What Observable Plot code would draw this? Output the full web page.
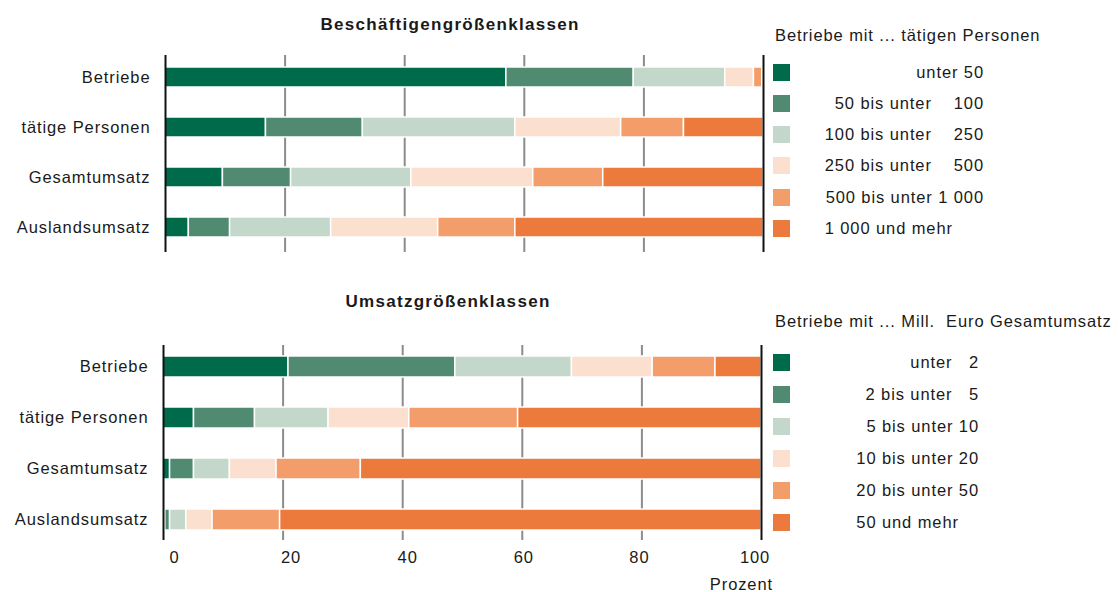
<!DOCTYPE html>
<html><head><meta charset="utf-8">
<script src="https://cdn.jsdelivr.net/npm/d3@7"></script>
<script src="https://cdn.jsdelivr.net/npm/@observablehq/plot@0.6"></script>
<style>
body{margin:0;background:#fff;}
#root{position:relative;width:1118px;height:592px;overflow:hidden;font-family:"Liberation Sans",Arial,sans-serif;color:#1a1a1a;font-size:16.5px;letter-spacing:0.9px;}
.abs{position:absolute;white-space:pre;line-height:20px;}
.title{font-weight:bold;font-size:17px;letter-spacing:1.3px;transform:translate(-50%,-50%);}
.mid{transform:translateY(-50%);}
.legtext{position:absolute;white-space:pre;text-align:right;}
.legtext div.last{text-align:left;}
.sw{position:absolute;width:17px;height:17px;}
.plot{position:absolute;left:0;}
</style></head>
<body><div id="root"></div>
<script>
// ---- data ----
const categories = ["Betriebe", "tätige Personen", "Gesamtumsatz", "Auslandsumsatz"];
const colors = ["#006b4b", "#508a71", "#c3d7cb", "#fbdfcf", "#f29d6a", "#ec7a3d"];

const empTitle = "Beschäftigengrößenklassen";
const empLegendTitle = "Betriebe mit ... tätigen Personen";
const empClasses = ["unter 50", "50 bis unter    100", "100 bis unter    250", "250 bis unter    500", "500 bis unter 1 000", "1 000 und mehr"];
const empBetriebe = [57.0, 21.3, 15.3, 4.8, 1.4, 0.2];
const empPersonen = [16.8, 16.2, 25.5, 17.7, 10.5, 13.3];
const empGesamt   = [9.6, 11.4, 20.1, 20.4, 11.7, 26.8];
const empAusland  = [3.9, 6.9, 16.9, 17.9, 12.9, 41.5];

const umsTitle = "Umsatzgrößenklassen";
const umsLegendTitle = "Betriebe mit ... Mill.  Euro Gesamtumsatz";
const umsClasses = ["unter   2", "2 bis unter   5", "5 bis unter 10", "10 bis unter 20", "20 bis unter 50", "50 und mehr"];
const umsBetriebe = [20.9, 27.9, 19.5, 13.5, 10.5, 7.7];
const umsPersonen = [5.1, 10.2, 12.3, 13.5, 18.2, 40.7];
const umsGesamt   = [1.1, 4.0, 6.0, 7.8, 14.1, 67.0];
const umsAusland  = [0.3, 0.8, 2.7, 4.4, 11.3, 80.5];

const gridTicks = [20, 40, 60, 80];
const xTicks = [0, 20, 40, 60, 80, 100];
const xLabel = "Prozent";

// ---- build ----
const root = document.getElementById("root");
const font = {fontFamily: '"Liberation Sans", Arial, sans-serif', fontSize: "16.5px", letterSpacing: "0.9px", color: "#1a1a1a", background: "transparent", overflow: "visible"};

function tidy(classes, rows) {
  const out = [];
  categories.forEach((c, i) => rows[i].forEach((v, j) => out.push({cat: c, cls: classes[j], v})));
  return out;
}

function panel(classes, rows, o) {
  const W = 775;
  const marks = [
    Plot.ruleX(gridTicks, {stroke: "#8c8c8c", strokeWidth: 2}),
    Plot.barX(tidy(classes, rows), Plot.stackX({x: "v", y: "cat", fill: "cls", stroke: "#fff", strokeWidth: 1.5})),
    Plot.ruleX([0, 100], {stroke: "#111", strokeWidth: 2}),
    Plot.axisY({tickSize: 0, tickPadding: 15, label: null})
  ];
  if (o.xaxis) {
    const dxs = [11, 8, 5, 1.5, -2.5, -6.5];
    xTicks.forEach((t, i) => marks.push(Plot.axisX([t], {tickSize: 0, tickPadding: 11, label: null, dx: dxs[i]})));
  }
  const svg = Plot.plot({
    width: W, height: o.h,
    marginLeft: o.x0, marginRight: W - o.x1, marginTop: o.mt, marginBottom: o.mb,
    style: font,
    x: o.xaxis ? {domain: [0, 100]} : {domain: [0, 100], axis: null},
    y: {domain: categories, paddingInner: o.pi, paddingOuter: o.po, align: o.align},
    color: {domain: classes, range: colors},
    marks
  });
  svg.classList.add("plot");
  svg.style.top = o.top + "px";
  root.appendChild(svg);
}

function addText(txt, x, y, cls) {
  const d = document.createElement("div");
  d.className = "abs " + cls;
  d.textContent = txt;
  d.style.left = x + "px"; d.style.top = y + "px";
  root.appendChild(d);
  return d;
}

function legend(title, classes, titleY, firstY, step, rightEdge) {
  addText(title, 775, titleY, "mid");
  classes.forEach((c, i) => {
    const s = document.createElement("div");
    s.className = "sw";
    s.style.background = colors[i];
    s.style.left = "773px";
    s.style.top = (firstY + i * step - 8.5) + "px";
    root.appendChild(s);
  });
  const box = document.createElement("div");
  box.className = "legtext";
  box.style.right = (1118 - rightEdge) + "px";
  box.style.top = (firstY - step / 2) + "px";
  box.style.lineHeight = step + "px";
  classes.forEach((c, i) => {
    const r = document.createElement("div");
    r.textContent = c;
    if (i === classes.length - 1) r.className = "last";
    box.appendChild(r);
  });
  root.appendChild(box);
}

panel(empClasses, [empBetriebe, empPersonen, empGesamt, empAusland],
  {top: 0, h: 262, x0: 165, x1: 763, mt: 55, mb: 10, pi: 0.6, po: 0.25, align: 0.45, xaxis: false});
panel(umsClasses, [umsBetriebe, umsPersonen, umsGesamt, umsAusland],
  {top: 330, h: 250, x0: 163, x1: 761, mt: 15, mb: 40, pi: 0.59, po: 0.2, align: 0.5, xaxis: true});

addText(empTitle, 450, 25, "title");
addText(umsTitle, 448, 302, "title");
const pz = addText(xLabel, 0, 584, "mid");
pz.style.left = ""; pz.style.right = (1118 - 773) + "px";

legend(empLegendTitle, empClasses, 35, 72.3, 31.2, 984);
legend(umsLegendTitle, umsClasses, 321, 362, 32.1, 979);
</script></body></html>
